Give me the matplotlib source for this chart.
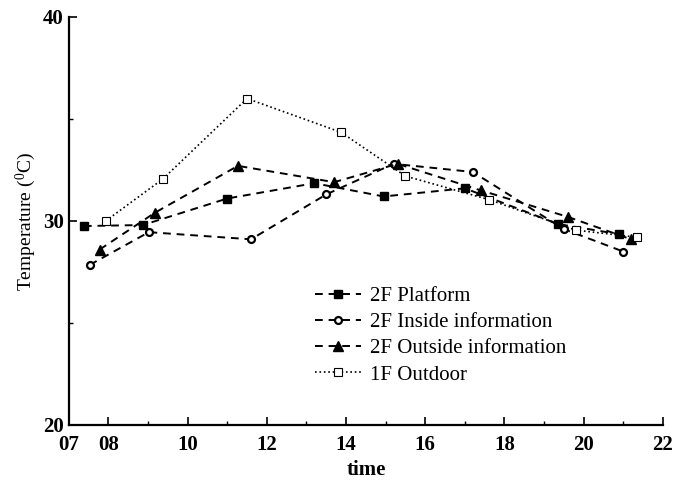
import numpy as np
import matplotlib.pyplot as plt

plt.rcParams['font.family'] = ['Liberation Serif', 'DejaVu Serif']
plt.rcParams['mathtext.fontset'] = 'custom'
plt.rcParams['mathtext.rm'] = 'Liberation Serif'

# hourly readings, temperature in degrees C
platform_t = [7.38, 8.87, 11.0, 13.2, 14.95, 17.0, 19.35, 20.9]
platform_v = [29.75, 29.8, 31.1, 31.85, 31.2, 31.6, 29.85, 29.35]

inside_t = [7.53, 9.02, 11.6, 13.5, 15.2, 17.2, 19.5, 21.0]
inside_v = [27.85, 29.45, 29.1, 31.3, 32.8, 32.4, 29.6, 28.5]

outside_t = [7.78, 9.17, 11.27, 13.7, 15.3, 17.4, 19.6, 21.2]
outside_v = [28.6, 30.4, 32.7, 31.9, 32.8, 31.5, 30.2, 29.1]

outdoor_t = [7.93, 9.37, 11.5, 13.87, 15.5, 17.6, 19.8, 21.35]
outdoor_v = [30.0, 32.05, 36.0, 34.35, 32.2, 31.05, 29.55, 29.2]

xticks = [7, 8, 10, 12, 14, 16, 18, 20, 22]
xtick_labels = ['07', '08', '10', '12', '14', '16', '18', '20', '22']
yticks = [20, 30, 40]

fig = plt.figure(figsize=(6.75, 4.84), dpi=100)
ax = fig.add_axes([0.102, 0.122, 0.880, 0.843])

ax.plot(platform_t, platform_v, '--', color='black', lw=1.4, marker='s',
        ms=5.5, mfc='black', dashes=(4, 3), label='2F Platform')
ax.plot(inside_t, inside_v, '--', color='black', lw=1.4, marker='o',
        ms=5, mfc='white', mew=1.6, dashes=(4, 3), label='2F Inside information')
ax.plot(outside_t, outside_v, '--', color='black', lw=1.4, marker='^',
        ms=7, mfc='black', dashes=(4, 3), label='2F Outside information')
ax.plot(outdoor_t, outdoor_v, ':', color='black', lw=1.2, marker='s',
        ms=6, mfc='white', mew=0.8, label='1F Outdoor')

ax.set_xlim(7, 22)
ax.set_ylim(20, 40)
ax.set_xticks(xticks)
ax.set_xticklabels(xtick_labels, fontweight='bold', fontsize=15)
ax.set_xticks(np.arange(7, 23, 1), minor=True)
ax.set_yticks(yticks)
ax.set_yticklabels([str(v) for v in yticks], fontweight='bold', fontsize=15)
ax.set_yticks([25, 35], minor=True)
ax.tick_params(direction='in', length=6, width=1.2)
ax.tick_params(axis='x', pad=7)
ax.tick_params(which='minor', direction='in', length=3, width=1)

for side in ['top', 'right']:
    ax.spines[side].set_visible(False)
for side in ['left', 'bottom']:
    ax.spines[side].set_linewidth(1.6)

ax.set_xlabel('time', fontsize=15, fontweight='bold', labelpad=4)
ax.set_ylabel('Temperature ($\\mathregular{^0}$C)', fontsize=14, labelpad=4)

ax.legend(loc='upper left', bbox_to_anchor=(0.40, 0.36), frameon=False,
          fontsize=15, handlelength=2.2, handletextpad=0.45,
          labelspacing=0.32, borderaxespad=0)

fig.savefig('out.png', dpi=100)
